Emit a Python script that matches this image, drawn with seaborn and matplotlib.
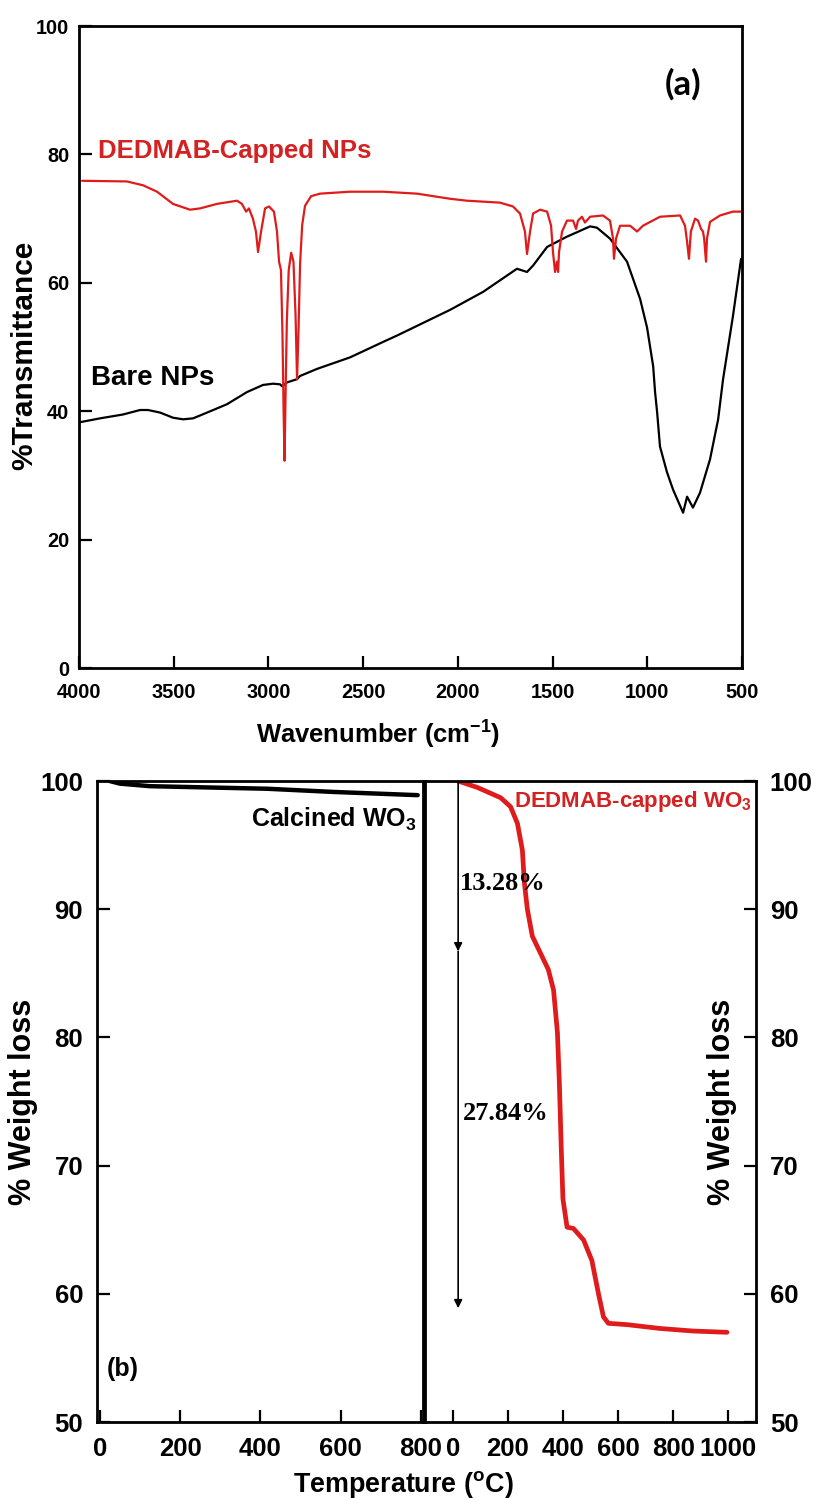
import numpy as np
import pandas as pd
import seaborn as sns
import matplotlib
matplotlib.use("Agg")
import matplotlib.pyplot as plt
from matplotlib import font_manager

# ---- FTIR data ----
bare_wn = [3995, 3889, 3768, 3678, 3636, 3572, 3504, 3451, 3398, 3324, 3219, 3113, 3029,
           2976, 2939, 2928, 2902, 2849, 2833, 2744, 2569, 2395, 2321, 2216, 2041, 1867,
           1688, 1635, 1603, 1529, 1424, 1302, 1266, 1197, 1107, 1038, 1001, 969, 959,
           948, 933, 896, 864, 811, 790, 759, 722, 669, 626, 600, 548, 505]
bare_T = [38.3, 38.9, 39.5, 40.2, 40.2, 39.8, 39.0, 38.75, 38.9, 39.8, 41.1, 43.0, 44.1,
          44.3, 44.2, 43.9, 44.5, 45.0, 45.5, 46.6, 48.4, 50.8, 51.8, 53.3, 55.8, 58.6,
          62.2, 61.7, 62.7, 65.6, 67.2, 68.8, 68.6, 66.9, 63.3, 57.5, 53.0, 47.0, 43.0,
          39.8, 34.5, 30.5, 27.8, 24.2, 26.7, 25.0, 27.3, 32.5, 38.75, 45.0, 54.8, 63.75]

capped_wn = [3984, 3747, 3662, 3588, 3504, 3414, 3361, 3272, 3166, 3140, 3118, 3103, 3082,
             3066, 3055, 3039, 3018, 2997, 2971, 2955, 2944, 2934, 2926, 2920, 2915, 2910,
             2903, 2893, 2880, 2868, 2857, 2849, 2841, 2833, 2822, 2807, 2775, 2728, 2569,
             2395, 2216, 2041, 1952, 1778, 1709, 1672, 1646, 1635, 1619, 1603, 1566, 1529,
             1508, 1498, 1487, 1477, 1471, 1466, 1450, 1424, 1392, 1376, 1366, 1345, 1329,
             1302, 1234, 1197, 1181, 1176, 1165, 1144, 1091, 1054, 1023, 933, 827, 801,
             790, 780, 770, 748, 732, 716, 706, 700, 690, 685, 669, 616, 548, 505]
capped_T = [75.9, 75.8, 75.2, 74.2, 72.3, 71.4, 71.6, 72.3, 72.8, 72.3, 71.1, 71.6, 70.0,
            68.0, 64.8, 68.0, 71.6, 71.9, 71.1, 68.0, 63.3, 62.0, 52.0, 40.0, 32.3, 42.0,
            54.0, 62.0, 64.7, 63.3, 55.0, 45.0, 53.0, 63.0, 69.0, 72.0, 73.5, 73.9, 74.2,
            74.2, 73.9, 73.1, 72.8, 72.5, 71.9, 70.8, 68.0, 64.5, 68.0, 70.8, 71.4, 71.1,
            68.9, 64.8, 61.7, 63.3, 61.7, 64.8, 68.0, 69.7, 69.7, 68.4, 69.7, 70.3, 69.4,
            70.3, 70.5, 69.7, 66.9, 63.75, 66.9, 68.9, 68.9, 68.0, 68.9, 70.3, 70.5, 68.9,
            66.4, 63.75, 68.0, 70.0, 69.7, 68.4, 68.0, 66.9, 63.3, 66.9, 69.5, 70.5, 71.1, 71.1]

# ---- TGA data ----
calc_temp = [25, 50, 125, 417, 583, 792]
calc_wt = [100, 99.8, 99.6, 99.4, 99.15, 98.9]

cap_temp = [20, 90, 174, 210, 235, 253, 260, 271, 289, 318, 347, 366, 380, 387, 394, 400,
            415, 438, 475, 505, 529, 547, 565, 632, 752, 872, 995]
cap_wt = [100, 99.5, 98.7, 98.0, 96.7, 94.6, 92.1, 90.0, 87.9, 86.6, 85.3, 83.7, 80.4, 76.5,
          71.3, 67.4, 65.2, 65.1, 64.2, 62.6, 60.0, 58.2, 57.7, 57.6, 57.3, 57.1, 57.0]

loss_steps = [13.28, 27.84]

wn_ticks = [4000, 3500, 3000, 2500, 2000, 1500, 1000, 500]
tr_ticks = [0, 20, 40, 60, 80, 100]
wt_ticks = [50, 60, 70, 80, 90, 100]

sns.set_style("ticks")
names = {f.name for f in font_manager.fontManager.ttflist}
narrow = "Liberation Sans Narrow" if "Liberation Sans Narrow" in names else "Liberation Sans"
nscale = 1.0 if narrow == "Liberation Sans Narrow" else 0.9
plt.rcParams["font.family"] = ["Liberation Sans", "DejaVu Sans"]
plt.rcParams["font.weight"] = "bold"
plt.rcParams["text.color"] = "black"
plt.rcParams["axes.labelcolor"] = "black"
plt.rcParams["xtick.color"] = "black"
plt.rcParams["ytick.color"] = "black"
plt.rcParams["mathtext.fontset"] = "custom"
plt.rcParams["mathtext.rm"] = "Liberation Sans:bold"
plt.rcParams["mathtext.bf"] = "Liberation Sans:bold"
plt.rcParams["mathtext.default"] = "rm"

RED_LINE = "#e01b1b"
RED_TEXT = "#d42222"

fig = plt.figure(figsize=(8.19, 14.98), dpi=100)
ax1 = fig.add_axes([0.0965, 0.554, 0.8095, 0.4286])
ax2 = fig.add_axes([0.1184, 0.0507, 0.398, 0.4279])
ax3 = fig.add_axes([0.519, 0.0507, 0.404, 0.4279])

# ---- (a) FTIR ----
ftir = pd.concat([
    pd.DataFrame({"wn": bare_wn, "T": bare_T, "s": "bare"}),
    pd.DataFrame({"wn": capped_wn, "T": capped_T, "s": "capped"}),
])
sns.lineplot(data=ftir, x="wn", y="T", hue="s", palette={"bare": "black", "capped": RED_LINE},
             sort=False, estimator=None, lw=1.6, legend=False, ax=ax1)
ax1.set_xlim(4000, 500)
ax1.set_ylim(0, 100)
ax1.set_xticks(wn_ticks)
ax1.set_yticks(tr_ticks)
for lab in ax1.get_xticklabels() + ax1.get_yticklabels():
    lab.set_family(narrow)
    lab.set_fontsize(16 * nscale)
    lab.set_fontweight("bold")
ax1.tick_params(direction="in", length=9, width=1.6)
ax1.tick_params(axis="x", pad=11)
ax1.tick_params(axis="y", pad=7)
ax1.set_xlabel("Wavenumber (cm$^{-1}$)", family=narrow, fontsize=20.5 * nscale,
               fontweight="bold")
ax1.xaxis.set_label_coords(0.451, -0.079)
ax1.set_ylabel("%Transmittance", fontsize=21.5, fontweight="bold")
ax1.yaxis.set_label_coords(-0.062, 0.487)
ax1.text(3900, 80.5, "DEDMAB-Capped NPs", color=RED_TEXT, fontsize=18.5, fontweight="bold",
         ha="left", va="center")
ax1.text(3937, 45.2, "Bare NPs", color="black", fontsize=20, fontweight="bold",
         ha="left", va="center")
ax1.text(812, 91, "(a)", color="black", fontsize=25, fontweight="bold", family="Lato",
         ha="center", va="center")

# ---- (b) TGA ----
sns.lineplot(x=calc_temp, y=calc_wt, color="black", lw=3.2, sort=False, estimator=None, ax=ax2)
sns.lineplot(x=cap_temp, y=cap_wt, color=RED_LINE, lw=3.4, sort=False, estimator=None, ax=ax3)

ax2.set_xlim(-7, 805)
ax3.set_xlim(-100, 1100)
for ax in (ax2, ax3):
    ax.set_ylim(50, 100)
    ax.set_yticks(wt_ticks)
    ax.tick_params(direction="in", length=9, width=1.6, labelsize=18.5)
    ax.tick_params(axis="x", pad=11)
    ax.tick_params(axis="y", pad=10)
ax2.set_xticks([0, 200, 400, 600, 800])
ax3.set_xticks([0, 200, 400, 600, 800, 1000])
ax3.yaxis.tick_right()
ax3.yaxis.set_label_position("right")

for ax in (ax1, ax2, ax3):
    for sp in ax.spines.values():
        sp.set_visible(True)
        sp.set_linewidth(2.0)
        sp.set_color("black")

ax2.set_ylabel("% Weight loss", fontsize=22, fontweight="bold")
ax2.yaxis.set_label_coords(-0.181, 0.5)
ax3.set_ylabel("% Weight loss", fontsize=22, fontweight="bold", rotation=90)
ax3.yaxis.set_label_coords(0.852, 0.5)

ax2.text(789, 97.0, "Calcined WO$_3$", fontsize=18, fontweight="bold", ha="right", va="center")
ax3.text(221, 98.4, "DEDMAB-capped WO$_3$", color=RED_TEXT, fontsize=16, fontweight="bold",
         ha="left", va="center")
ax2.text(17, 54.1, "(b)", family=narrow, fontsize=20 * nscale, fontweight="bold",
         ha="left", va="center")

# weight-loss arrows
levels = 100 - np.cumsum([0] + loss_steps)
for top, bot in zip(levels[:-1], levels[1:]):
    ax3.annotate("", xy=(20, bot), xytext=(20, top),
                 arrowprops=dict(arrowstyle="-|>", color="black", lw=1.2, mutation_scale=12,
                                 shrinkA=0, shrinkB=0))
ax3.text(25, 92.0, f"{loss_steps[0]:.2f}%", family="Liberation Serif", fontsize=19,
         fontweight="bold", ha="left", va="center")
ax3.text(36, 74.1, f"{loss_steps[1]:.2f}%", family="Liberation Serif", fontsize=19,
         fontweight="bold", ha="left", va="center")

fig.text(0.492, 0.0093, "Temperature ($^{\\mathrm{o}}$C)", family=narrow, fontsize=21.5 * nscale,
         fontweight="bold", ha="center", va="center")

fig.savefig("out.png", dpi=100)
